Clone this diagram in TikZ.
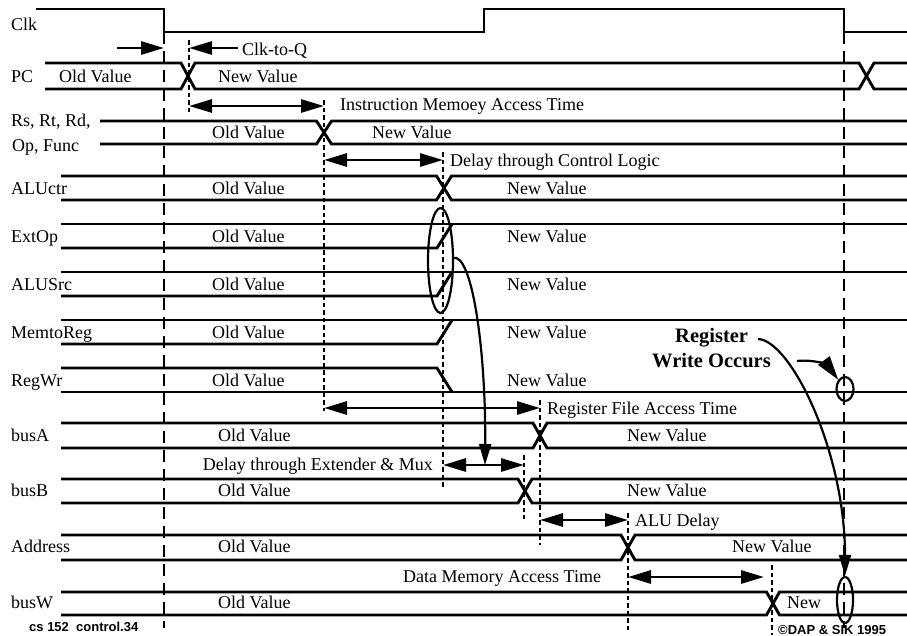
\documentclass[tikz,border=0pt]{standalone}
\usepackage{fontspec}
\setmainfont{Liberation Serif}
\newfontfamily\hsans{Liberation Sans}
\usetikzlibrary{arrows.meta,shapes.geometric}
\newcommand\busx[5]{%
  \draw[sig] (#1,#2) -- ({#4-#5},#2) -- ({#4+#5},#3) -- (907,#3);
  \draw[sig] (#1,#3) -- ({#4-#5},#3) -- ({#4+#5},#2) -- (907,#2);}
\begin{document}
\begin{tikzpicture}[x=1pt,y=-1pt,
  sig/.style={line width=2.9pt},
  clkdash/.style={line width=2.9pt,dash pattern=on 12pt off 7pt},
  dotl/.style={line width=2.6pt,dash pattern=on 4.5pt off 3pt},
  dimarr/.style={line width=2.9pt,{Triangle[length=23pt,width=13pt]}-{Triangle[length=23pt,width=13pt]}},
  onearr/.style={line width=2.9pt,-{Triangle[length=23pt,width=13pt]}},
  curvearr/.style={line width=2.2pt,-{Triangle[length=21pt,width=12pt]}},
  ring/.style={line width=2.2pt},
  lbl/.style={anchor=base west,inner sep=0pt,font=\fontsize{18}{20}\selectfont},
  lble/.style={anchor=base east,inner sep=0pt,font=\fontsize{18}{20}\selectfont},
  bold/.style={anchor=base west,inner sep=0pt,font=\fontsize{20.5}{23}\selectfont\bfseries},
  foot/.style={anchor=base west,inner sep=0pt,font=\hsans\fontsize{13}{15}\selectfont\bfseries}]
\useasboundingbox (0,0) rectangle (907,635);
\fill[white] (0,0) rectangle (907,635);

% clock
\draw[sig] (36,9) -- (164,9) -- (164,32) -- (484,32) -- (484,9) -- (844,9) -- (844,32) -- (907,32);
\draw[clkdash] (164,32) -- (164,628);
\draw[clkdash] (844,32) -- (844,628);

% row labels
\node[lbl] (lclk) at (11,30) {Clk};
\node[lbl] (lpc) at (11,82) {PC};
\node[lbl] (lrs) at (11,126) {Rs, Rt, Rd,};
\node[lbl] (lop) at (12,151) {Op, Func};
\node[lbl] (lalu) at (11,194) {ALUctr};
\node[lbl] (lext) at (11,242) {ExtOp};
\node[lbl] (lsrc) at (11,290) {ALUSrc};
\node[lbl] (lmem) at (11,338) {MemtoReg};
\node[lbl] (lreg) at (11,386) {RegWr};
\node[lbl] (lba) at (11,441) {busA};
\node[lbl] (lbb) at (11,496) {busB};
\node[lbl] (ladd) at (11,552) {Address};
\node[lbl] (lbw) at (11,608) {busW};

% PC
\draw[sig] (45,63) -- (181,63) -- (195,89) -- (859,89) -- (874,63) -- (907,63);
\draw[sig] (45,89) -- (181,89) -- (195,63) -- (859,63) -- (874,89) -- (907,89);
\node[lbl] (pco) at (59,82) {Old Value};
\node[lbl] (pcn) at (218,82) {New Value};

% Clk-to-Q
\coordinate (cq0) at (117,48);
\coordinate (cq1) at (164,48);
\coordinate (cq2) at (238,48);
\coordinate (cq3) at (189,48);
\draw[onearr] (cq0) -- (cq1);
\draw[onearr] (cq2) -- (cq3);
\node[lbl] (tcq) at (242,55) {Clk-to-Q};
\draw[dotl] (189,40) -- (189,112);

% Rs row
\busx{100}{121}{144}{324}{7.5}
\node[lbl] (rso) at (212,138) {Old Value};
\node[lbl] (rsn) at (372,138) {New Value};
\coordinate (im0) at (189,106);
\coordinate (im1) at (324,106);
\draw[dimarr] (im0) -- (im1);
\node[lbl] (tim) at (340,110) {Instruction Memoey Access Time};
\draw[dotl] (324,100) -- (324,411);

% control logic
\coordinate (cl0) at (324,160);
\coordinate (cl1) at (443,160);
\draw[dimarr] (cl0) -- (cl1);
\node[lbl] (tcl) at (450,166) {Delay through Control Logic};
\draw[dotl] (443,152) -- (443,487);

% ALUctr
\busx{61}{176}{200}{444}{7.5}
\node[lbl] at (212,194) {Old Value};
\node[lbl] at (507,194) {New Value};

% ExtOp, ALUSrc, MemtoReg
\draw[sig] (61,224) -- (907,224);
\draw[sig] (61,248) -- (437,248) -- (452,224);
\node[lbl] at (212,242) {Old Value};
\node[lbl] at (507,242) {New Value};
\draw[sig] (61,272) -- (907,272);
\draw[sig] (61,296) -- (437,296) -- (452,272);
\node[lbl] at (212,290) {Old Value};
\node[lbl] at (507,290) {New Value};
\draw[sig] (61,320) -- (907,320);
\draw[sig] (61,344) -- (437,344) -- (452,320);
\node[lbl] at (212,338) {Old Value};
\node[lbl] at (507,338) {New Value};
% RegWr
\draw[sig] (61,368) -- (437,368) -- (452,392);
\draw[sig] (61,392) -- (907,392);
\node[lbl] at (212,386) {Old Value};
\node[lbl] at (507,386) {New Value};

% ellipse ExtOp/ALUSrc
\node[draw,ring,ellipse,minimum width=25pt,minimum height=105pt,inner sep=0pt] (ell1) at (440.5,260.5) {};
\coordinate (m0) at (453,258);
\coordinate (m1) at (485,465);
\draw[curvearr] (m0) .. controls (472,252) and (486,350) .. (m1);

% register file access
\coordinate (rf0) at (324,408);
\coordinate (rf1) at (540,408);
\draw[dimarr] (rf0) -- (rf1);
\node[lbl] at (547,414) {Register File Access Time};
\draw[dotl] (540,400) -- (540,545);

% busA
\busx{61}{423}{448}{540}{7}
\node[lbl] at (218,441) {Old Value};
\node[lbl] at (627,441) {New Value};

% extender
\coordinate (ex0) at (443,465);
\coordinate (ex1) at (524,465);
\draw[dimarr] (ex0) -- (ex1);
\node[lble] at (433,470) {Delay through Extender \& Mux};
\draw[dotl] (524,455) -- (524,519);

% busB
\busx{61}{479}{503}{525}{7}
\node[lbl] at (218,496) {Old Value};
\node[lbl] at (627,496) {New Value};

% ALU delay
\coordinate (ad0) at (540,520);
\coordinate (ad1) at (628,520);
\draw[dimarr] (ad0) -- (ad1);
\node[lbl] at (635,526) {ALU Delay};
\draw[dotl] (628,513) -- (628,630);

% Address
\busx{61}{535}{560}{628}{7}
\node[lbl] at (218,552) {Old Value};
\node[lbl] at (732,552) {New Value};

% data memory
\coordinate (dm0) at (628,577);
\coordinate (dm1) at (764,577);
\draw[dimarr] (dm0) -- (dm1);
\node[lbl] at (403,582) {Data Memory Access Time};
\draw[dotl] (772,565) -- (772,635);

% busW
\busx{61}{592}{615}{773}{6.5}
\node[lbl] at (218,608) {Old Value};
\node[lbl] at (787,608) {New};

% register write
\node[draw,ring,ellipse,minimum width=17pt,minimum height=24pt,inner sep=0pt] (ell2) at (845,389) {};
\node[draw,ring,ellipse,minimum width=16pt,minimum height=46pt,inner sep=0pt] (ell3) at (845,600) {};
\node[bold] (treg) at (675,342) {Register};
\node[bold] (twr) at (652,367) {Write Occurs};
\coordinate (rg0) at (758,339);
\draw[curvearr] (rg0) .. controls (790,340) and (845,450) .. (ell3.north);
\coordinate (wo0) at (797,361);
\draw[curvearr,-{Triangle[length=24pt,width=14pt]}] (wo0) .. controls (815,359) and (828,366) .. (ell2.north west);

% footers
\node[foot] at (29,631) {cs 152\ \ control.34};
\node[foot] at (778,634) {©DAP \& SIK 1995};
\end{tikzpicture}
\end{document}
